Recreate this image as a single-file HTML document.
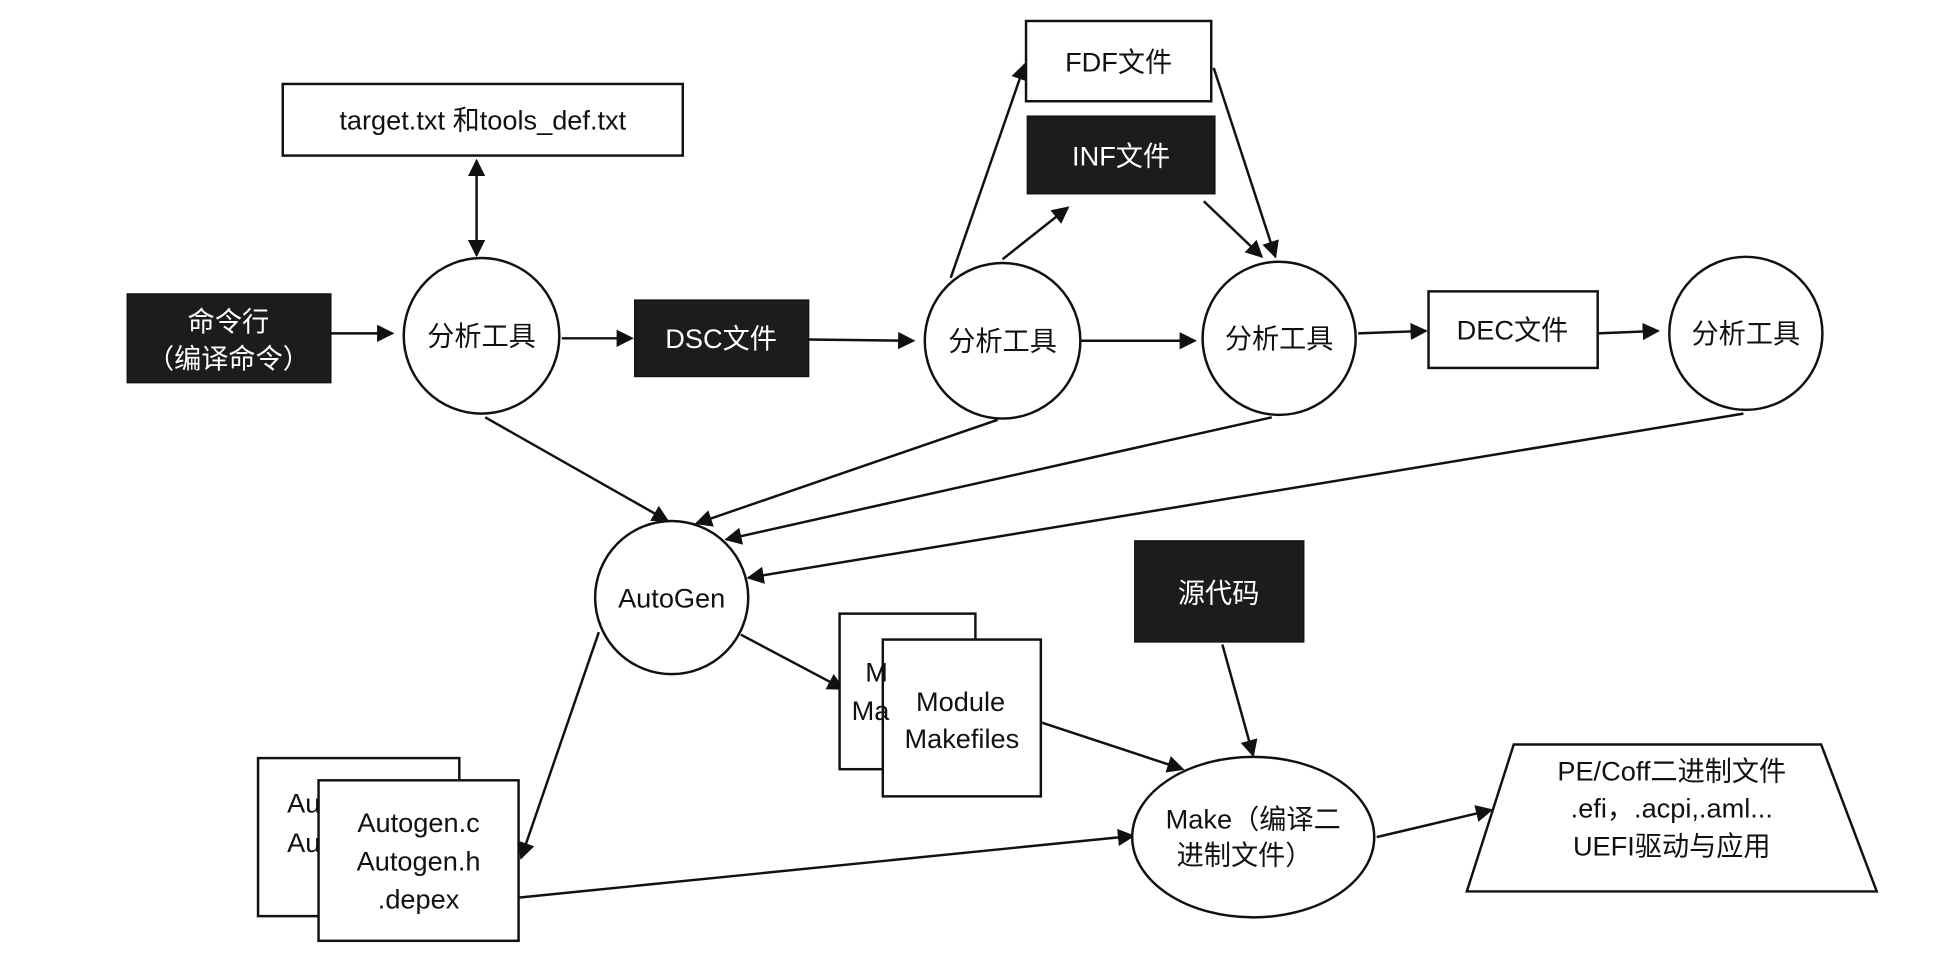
<!DOCTYPE html>
<html><head><meta charset="utf-8"><style>
html,body{margin:0;padding:0;background:#fff;}
svg{display:block;}
text{font-family:"Liberation Sans","Noto Sans CJK SC",sans-serif;font-size:22px;fill:#111;text-anchor:middle;}
.w{fill:#fff;}
</style></head><body>
<svg width="1936" height="976" viewBox="0 0 1568 790.5" preserveAspectRatio="none" xmlns="http://www.w3.org/2000/svg">
<defs><marker id="a" viewBox="0 0 10 10" refX="9" refY="5" markerWidth="7" markerHeight="7" orient="auto-start-reverse"><path d="M0,0 L10,5 L0,10 z" fill="#111"/></marker></defs>
<rect width="1568" height="791" fill="#fff"/>
<g stroke="#111" stroke-width="2" fill="#fff">
<circle cx="544" cy="484" r="62"/>
</g>
<g stroke="#111" stroke-width="2" fill="none" marker-end="url(#a)">
<line x1="386" y1="130" x2="386" y2="207" marker-start="url(#a)"/>
<line x1="268" y1="270" x2="318" y2="270"/>
<line x1="455" y1="274" x2="512" y2="274"/>
<line x1="655" y1="275" x2="740" y2="276"/>
<line x1="770" y1="225" x2="830" y2="52"/>
<line x1="812" y1="210" x2="865" y2="168"/>
<line x1="983" y1="55" x2="1033" y2="208"/>
<line x1="975" y1="163" x2="1022" y2="208"/>
<line x1="876" y1="276" x2="968" y2="276"/>
<line x1="1100" y1="270" x2="1155" y2="268"/>
<line x1="1294" y1="270" x2="1343" y2="268"/>
<line x1="393" y1="338" x2="541" y2="422"/>
<line x1="808" y1="340" x2="564" y2="424"/>
<line x1="1030" y1="338" x2="588" y2="437"/>
<line x1="1412" y1="335" x2="606" y2="468"/>
<line x1="600" y1="514" x2="683" y2="558"/>
<line x1="843" y1="585" x2="958" y2="623"/>
<line x1="990" y1="522" x2="1015" y2="612"/>
<line x1="485" y1="512" x2="422" y2="695"/>
<line x1="420" y1="727" x2="918" y2="677"/>
</g>
<g stroke="#111" stroke-width="2" fill="#fff">
<rect x="229" y="68" width="324" height="58"/>
<rect x="831" y="17" width="150" height="65"/>
<rect x="1157" y="236" width="137" height="62"/>
<circle cx="390" cy="272" r="63"/>
<circle cx="812" cy="276" r="63"/>
<circle cx="1036" cy="274" r="62"/>
<circle cx="1414" cy="270" r="62"/>
<ellipse cx="1015" cy="678" rx="98" ry="65"/>
<rect x="680" y="497" width="110" height="126"/>
<rect x="715" y="518" width="128" height="127"/>
<rect x="209" y="614" width="163" height="128"/>
<rect x="258" y="632" width="162" height="130"/>
<polygon points="1226,603 1475,603 1520,722 1188,722"/>
</g>
<line x1="1115" y1="678" x2="1208" y2="656" stroke="#111" stroke-width="2" marker-end="url(#a)"/>
<g fill="#1c1c1c" stroke="#111" stroke-width="1">
<rect x="103" y="238" width="165" height="72"/>
<rect x="514" y="243" width="141" height="62"/>
<rect x="832" y="94" width="152" height="63"/>
<rect x="919" y="438" width="137" height="82"/>
</g>
<text x="391" y="105">target.txt 和tools_def.txt</text>
<text x="906" y="58">FDF文件</text>
<text x="908" y="134" class="w">INF文件</text>
<text x="185" y="268" class="w">命令行</text>
<text x="185" y="298" class="w">（编译命令）</text>
<text x="584" y="282" class="w">DSC文件</text>
<text x="987" y="488" class="w">源代码</text>
<text x="1225" y="275">DEC文件</text>
<text x="390" y="280">分析工具</text>
<text x="812" y="284">分析工具</text>
<text x="1036" y="282">分析工具</text>
<text x="1414" y="278">分析工具</text>
<text x="544" y="492">AutoGen</text>
<text x="1015" y="671">Make（编译二</text>
<text x="1008" y="700">进制文件）</text>
<text x="710" y="552">M</text>
<text x="705" y="583">Ma</text>
<text x="778" y="576">Module</text>
<text x="779" y="606">Makefiles</text>
<text x="246" y="658">Au</text>
<text x="246" y="690">Au</text>
<text x="339" y="674">Autogen.c</text>
<text x="339" y="705">Autogen.h</text>
<text x="339" y="736">.depex</text>
<text x="1354" y="632">PE/Coff二进制文件</text>
<text x="1354" y="662">.efi，.acpi,.aml...</text>
<text x="1354" y="693">UEFI驱动与应用</text>
</svg>
</body></html>
